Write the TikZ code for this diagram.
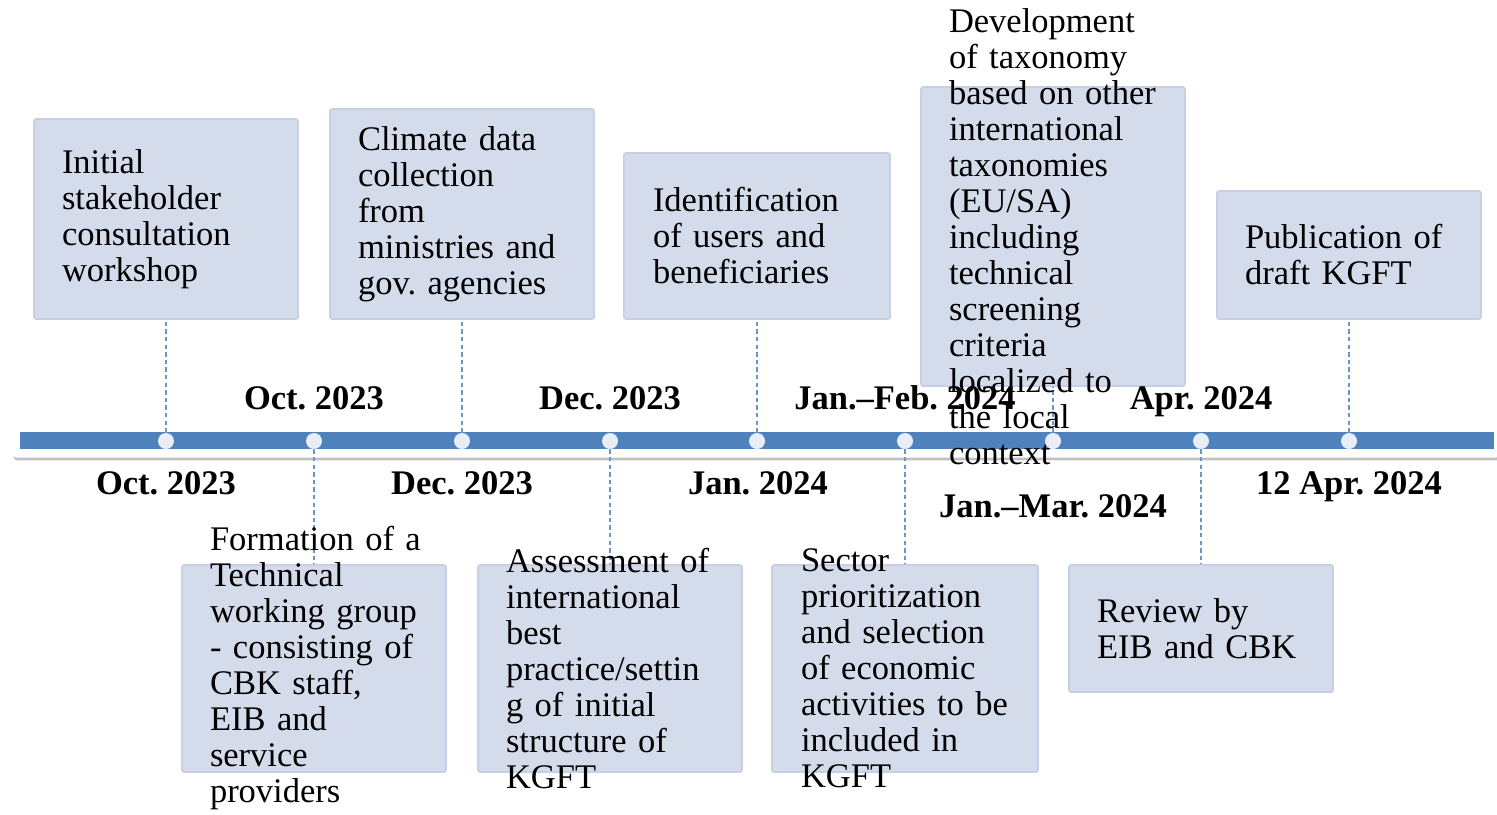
\documentclass[tikz,border=0pt]{standalone}
\usepackage{fontspec}
\setmainfont{Liberation Serif}
\usepackage{xcolor}
\usetikzlibrary{shadows, positioning}
\frenchspacing
\definecolor{barblue}{HTML}{4F81BD}
\definecolor{boxfill}{HTML}{D4DBEA}
\definecolor{boxline}{HTML}{C6CFE4}
\definecolor{dotfill}{HTML}{E9EDF5}
\definecolor{linkblue}{HTML}{6A96CC}
\tikzstyle{stage} = [rectangle, draw=boxline, fill=boxfill, line width=0.8pt, rounded corners=1pt, inner sep=0pt, minimum width=132pt]
\tikzstyle{stagetext} = [text width=112pt, align=left, inner sep=0pt, xshift=4pt, font=\fontsize{17.25}{18}\selectfont]
\tikzstyle{date} = [anchor=base, inner sep=0pt, font=\fontsize{17.25}{18}\selectfont\bfseries]
\tikzstyle{dot} = [circle, fill=dotfill, minimum size=8pt, inner sep=0pt]
\tikzstyle{link} = [draw=linkblue, line width=0.6pt, dash pattern=on 2.2pt off 1.6pt]

\begin{document}
\begin{tikzpicture}[x=0.5pt, y=-0.5pt]
    \useasboundingbox (0,0) rectangle (1497,814);
    % Timeline
    \node (track) [rectangle, fill=white, rounded corners=2pt, minimum width=744pt, minimum height=16.5pt,
        drop shadow={shadow xshift=0.6pt, shadow yshift=-1.4pt, opacity=0.35, fill=black!70}] at (756,441) {};
    \node (bar) [rectangle, fill=barblue, minimum width=737pt, minimum height=8.5pt, inner sep=0pt] at (757,440.5) {};
    \foreach \x [count=\i from 0] in {166,314,462,610,757,905,1053,1201,1349}
        \node (d\i) [dot] at (\x,441) {};

    % Boxes
    \node (s1) [stage, minimum height=100pt] at (166,219) {};
    \node (s2) [stage, minimum height=105pt] at (462,214) {};
    \node (s3) [stage, minimum height=83pt, minimum width=133pt] at (757,236) {};
    \node (s4) [stage, minimum height=149.5pt] at (1053,236.5) {};
    \node (s5) [stage, minimum height=64pt] at (1349,255) {};
    \node (s6) [stage, minimum height=103.5pt] at (314,668.5) {};
    \node (s7) [stage, minimum height=103.5pt] at (610,668.5) {};
    \node (s8) [stage, minimum height=103.5pt, minimum width=133pt] at (905,668.5) {};
    \node (s9) [stage, minimum height=63.5pt] at (1201,628.5) {};

    % Links
    \draw [link] (d0) -- (s1);
    \draw [link] (d2) -- (s2);
    \draw [link] (d4) -- (s3);
    \draw [link] (d6) -- (s4);
    \draw [link] (d8) -- (s5);
    \draw [link] (d1) -- (s6);
    \draw [link] (d3) -- (s7);
    \draw [link] (d5) -- (s8);
    \draw [link] (d7) -- (s9);

    % Dates
    \node (t1) [date] at (314,409) {Oct. 2023};
    \node (t2) [date] at (610,409) {Dec. 2023};
    \node (t3) [date] at (905,409) {Jan.--Feb. 2024};
    \node (t4) [date] at (1201,409) {Apr. 2024};
    \node (u1) [date] at (166,494) {Oct. 2023};
    \node (u2) [date] at (462,494) {Dec. 2023};
    \node (u3) [date] at (758,494) {Jan. 2024};
    \node (u4) [date] at (1053,517) {Jan.--Mar. 2024};
    \node (u5) [date] at (1349,494) {12 Apr. 2024};

    % Texts
    \node (x1) [stagetext] at (s1.center) {Initial\\stakeholder\\consultation\\workshop};
    \node (x2) [stagetext] at (s2.center) {Climate data\\collection\\from\\ministries and\\gov. agencies};
    \node (x3) [stagetext] at (s3.center) {Identification\\of users and\\beneficiaries};
    \node (x4) [stagetext] at (s4.center) {Development\\of taxonomy\\based on other\\international\\taxonomies\\(EU/SA)\\including\\technical\\screening\\criteria\\localized to\\the local\\context};
    \node (x5) [stagetext] at (s5.center) {Publication of\\draft KGFT};
    \node (x6) [stagetext] at (s6.center) {Formation of a\\Technical\\working group\\- consisting of\\CBK staff,\\EIB and\\service\\providers};
    \node (x7) [stagetext] at (s7.center) {Assessment of\\international\\best\\practice/settin\\g of initial\\structure of\\KGFT};
    \node (x8) [stagetext] at (s8.center) {Sector\\prioritization\\and selection\\of economic\\activities to be\\included in\\KGFT};
    \node (x9) [stagetext] at (s9.center) {Review by\\EIB and CBK};
\end{tikzpicture}
\end{document}
